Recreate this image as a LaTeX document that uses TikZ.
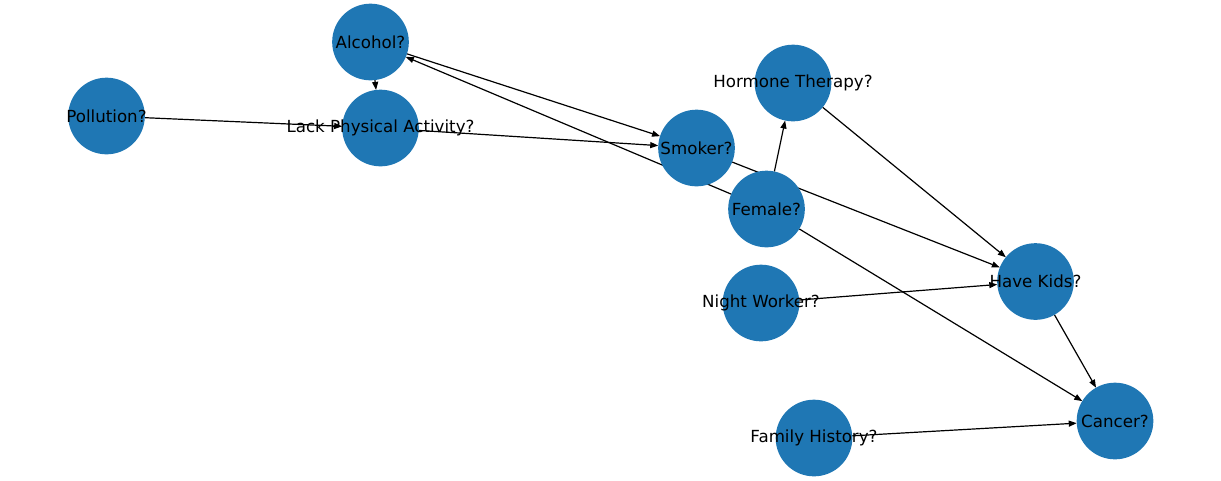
\documentclass[tikz,border=0pt]{standalone}
\usepackage{fontspec}
\setmainfont{DejaVu Sans}
\usetikzlibrary{arrows.meta,backgrounds}
\definecolor{nxblue}{RGB}{31,119,180}
\begin{document}
\begin{tikzpicture}[x=0.75pt,y=-0.75pt,
  dot/.style={circle,fill=nxblue,minimum size=57.5pt,inner sep=0pt,outer sep=0pt},
  lbl/.style={inner sep=0pt,font=\fontsize{12.5}{15}\selectfont},
  edge/.style={line width=0.9pt,-{Triangle[length=6pt,width=4.5pt]}}]
\useasboundingbox (0,0) rectangle (1221,480);
\node[dot] (alc) at (370.5,42) {};
\node[dot] (lpa) at (380.5,128) {};
\node[dot] (pol) at (106.5,116) {};
\node[dot] (hor) at (793,83) {};
\node[dot] (smo) at (696.5,148) {};
\node[dot] (fem) at (766.5,209) {};
\node[dot] (kid) at (1035.5,281.5) {};
\node[dot] (nig) at (761,303) {};
\node[dot] (can) at (1115,421) {};
\node[dot] (fam) at (814,438) {};
\node[lbl] (alc-t) at (alc) {Alcohol?};
\node[lbl] (lpa-t) at (lpa) {Lack Physical Activity?};
\node[lbl] (pol-t) at (pol) {Pollution?};
\node[lbl] (hor-t) at (hor) {Hormone Therapy?};
\node[lbl] (smo-t) at (smo) {Smoker?};
\node[lbl] (fem-t) at (fem) {Female?};
\node[lbl] (kid-t) at (kid) {Have Kids?};
\node[lbl] (nig-t) at (nig) {Night Worker?};
\node[lbl] (can-t) at (can) {Cancer?};
\node[lbl] (fam-t) at (fam) {Family History?};
\begin{scope}[on background layer]
\draw[edge] (alc) -- (lpa);
\draw[edge] (alc) -- (smo);
\draw[edge] (fem) -- (alc);
\draw[edge] (pol) -- (lpa);
\draw[edge] (lpa) -- (smo);
\draw[edge] (smo) -- (kid);
\draw[edge] (fem) -- (hor);
\draw[edge] (hor) -- (kid);
\draw[edge] (fem) -- (can);
\draw[edge] (nig) -- (kid);
\draw[edge] (kid) -- (can);
\draw[edge] (fam) -- (can);
\end{scope}
\end{tikzpicture}
\end{document}
